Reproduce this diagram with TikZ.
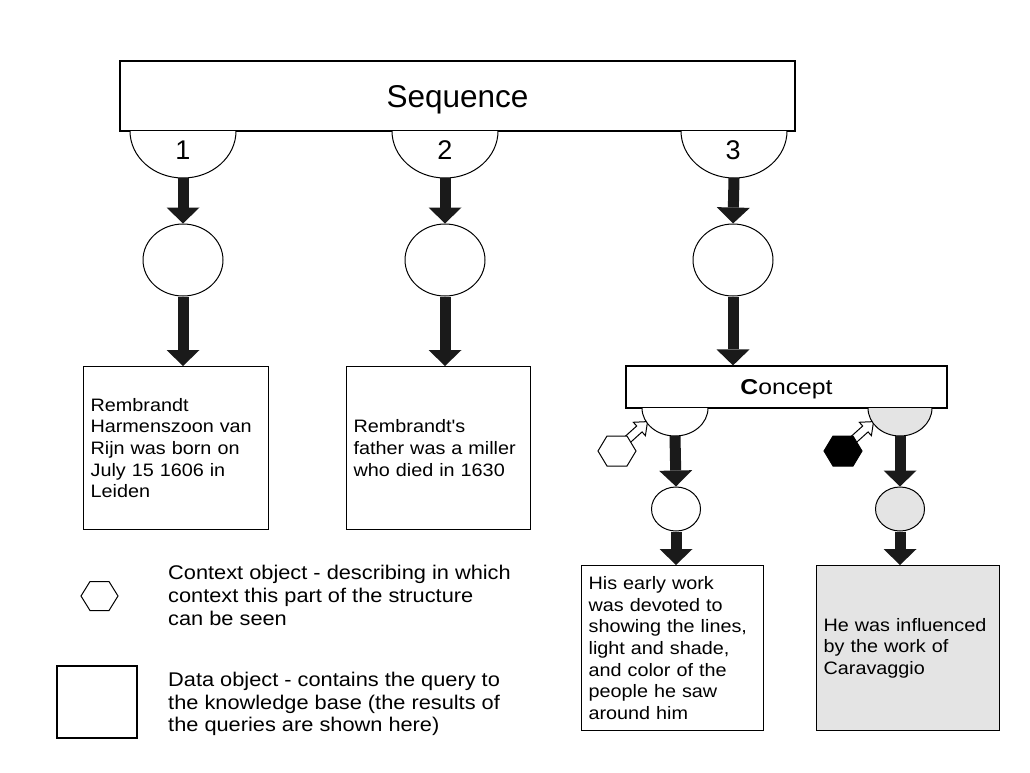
\documentclass[tikz,border=0pt]{standalone}
\usepackage{fontspec}
\setmainfont{Liberation Sans}
\newfontfamily\stretchf[FakeStretch=1.1]{Liberation Sans}
\newfontfamily\conf[FakeStretch=1.15]{Liberation Sans}
\usetikzlibrary{arrows.meta,shapes.geometric}
\newcommand\bodytext{\stretchf\fontsize{18}{21.7}\selectfont}
\newcommand\legtext{\stretchf\fontsize{19.8}{22.8}\selectfont}
\newcommand\hexshape[3]{\draw[line width=1pt, fill=#3, shift={(#1,#2)}] (-19,0) -- (-10,-15) -- (10,-15) -- (19,0) -- (10,15) -- (-10,15) -- cycle;}
\newcommand\openarrow[2]{\draw[line width=1pt, fill=white, line join=miter, shift={(#1,#2)}, rotate=42] (0,-4) -- (18,-4) -- (18,-9) -- (29,0) -- (18,9) -- (18,4) -- (0,4) -- cycle;}
\definecolor{shade}{HTML}{E4E4E4}
\definecolor{arrowc}{HTML}{1A1A1A}
\begin{document}
\begin{tikzpicture}[x=1pt,y=-1pt,
  box/.style={draw=black, line width=1.2pt, rectangle, inner sep=0pt, fill=white},
  databox/.style={draw=black, line width=1.2pt, rectangle, inner xsep=7pt, inner ysep=0pt,
     align=left, font=\bodytext, anchor=north west, fill=white},
  circ/.style={draw=black, line width=1pt, ellipse, inner sep=0pt, fill=white},
  semi/.style={draw=black, line width=1pt, fill=white},
  num/.style={font=\fontsize{27}{32}\selectfont, inner sep=0pt},
  bigarrow/.style={draw=arrowc, line width=11pt, -{Triangle[width=33pt,length=16pt,line width=0pt]}},
  legend/.style={font=\legtext, align=left, anchor=west, inner sep=0pt}
]
\useasboundingbox[fill=white] (0,0) rectangle (1030,772);

% Sequence box and its slots
\node[box, minimum width=675pt, minimum height=70pt, font=\fontsize{31.5}{36}\selectfont, text depth=0pt] (seq) at (457.5,96) {Sequence};
\draw[semi] (130,131) arc[start angle=180,end angle=360,x radius=53pt,y radius=47pt];
\draw[semi] (392,131) arc[start angle=180,end angle=360,x radius=53pt,y radius=47pt];
\draw[semi] (681,131) arc[start angle=180,end angle=360,x radius=53pt,y radius=47pt];
\coordinate (s1) at (183,178);
\coordinate (s2) at (445,178);
\coordinate (s3) at (734,178);
\node[num] (n1) at (183,150) {1};
\node[num] (n2) at (445,150) {2};
\node[num] (n3) at (733,150) {3};

% circles
\node[circ, minimum width=80pt, minimum height=72pt] (c1) at (183,260) {};
\node[circ, minimum width=80pt, minimum height=72pt] (c2) at (445,260) {};
\node[circ, minimum width=80pt, minimum height=72pt] (c3) at (733,260) {};

% data boxes
\node[databox, minimum width=185pt, minimum height=163pt, text width=171pt] (d1) at (83,366)
  {Rembrandt\\Harmenszoon van\\Rijn was born on\\July 15 1606 in\\Leiden};
\node[databox, minimum width=184pt, minimum height=163pt, text width=170pt] (d2) at (346,366)
  {Rembrandt's\\father was a miller\\who died in 1630};

% concept box
\node[box, minimum width=321pt, minimum height=42pt, font=\conf\fontsize{21.5}{26}\selectfont, text depth=0pt] (con) at (786.5,387) {\textbf{C}oncept};

% arrows from sequence
\draw[bigarrow] (s1) -- (c1.north);
\draw[bigarrow] (s2) -- (c2.north);
\draw[bigarrow] (s3) -- (c3.north);
\draw[bigarrow] (c1.south) -- (c1.south |- d1.north);
\draw[bigarrow] (c2.south) -- (c2.south |- d2.north);
\draw[bigarrow] (c3.south) -- (c3.south |- con.north);

% context arrows and hexagons
\openarrow{626}{441}
\openarrow{852}{441}
\hexshape{617}{451}{white}
\hexshape{843}{451}{black}

% concept slots
\draw[semi] (642,408) arc[start angle=180,end angle=360,x radius=33pt,y radius=28pt];
\draw[semi, fill=shade] (868,408) arc[start angle=180,end angle=360,x radius=32pt,y radius=28pt];
\coordinate (cs1) at (675,436);
\coordinate (cs2) at (900,436);

\node[circ, minimum width=49pt, minimum height=44pt] (sc1) at (676,509) {};
\node[circ, minimum width=49pt, minimum height=44pt, fill=shade] (sc2) at (900,509) {};

\node[databox, minimum width=182pt, minimum height=165pt, text width=168pt] (b1) at (581,565)
  {His early work\\was devoted to\\showing the lines,\\light and shade,\\and color of the\\people he saw\\around him};
\node[databox, minimum width=183pt, minimum height=165pt, text width=169pt, fill=shade] (b2) at (816,565)
  {He was influenced\\by the work of\\Caravaggio};

\draw[bigarrow] (cs1) -- (sc1.north);
\draw[bigarrow] (cs2) -- (sc2.north);
\draw[bigarrow] (sc1.south) -- (sc1.south |- b1.north);
\draw[bigarrow] (sc2.south) -- (sc2.south |- b2.north);

% legend
\draw[line width=1pt] (81,596) -- (90,581.5) -- (109,581.5) -- (118,596) -- (109,610.5) -- (90,610.5) -- cycle;
\node[legend] (l1) at (168,595.5) {Context object - describing in which\\context this part of the structure\\can be seen};
\node[draw=black, line width=1.2pt, minimum width=80pt, minimum height=72pt, inner sep=0pt] (lsq) at (97,702) {};
\node[legend] (l2) at (168,704) {Data object - contains the query to\\the knowledge base (the results of\\the queries are shown here)};
\end{tikzpicture}
\end{document}
